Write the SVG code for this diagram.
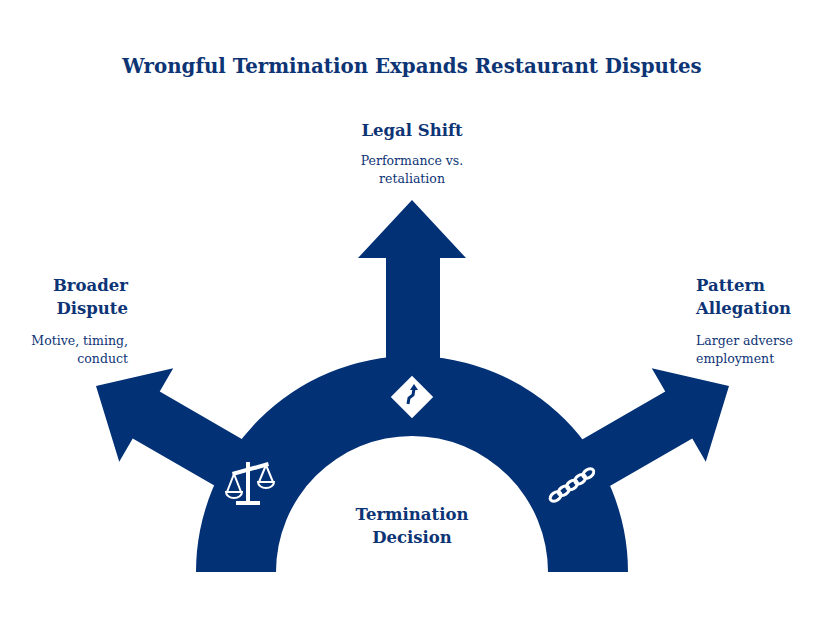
<svg xmlns="http://www.w3.org/2000/svg" width="825" height="620" viewBox="0 0 825 620">
<style>
.t{font-family:"DejaVu Serif","Liberation Serif",serif;fill:#0d3475}
.h{font-weight:bold;font-size:16.5px}
.d{font-size:12.5px}
.s{fill:#033176}
.w{fill:#fff}
</style>
<rect width="825" height="620" fill="#fff"/>
<text class="t" x="412" y="73" text-anchor="middle" font-size="19.8" font-weight="bold">Wrongful Termination Expands Restaurant Disputes</text>
<g id="connectors">
<polygon class="s" points="0,0 58,-54 58,-27 220,-27 220,27 58,27 58,54" transform="translate(96,386) rotate(30)"/>
<polygon class="s" points="0,0 58,-54 58,-27 220,-27 220,27 58,27 58,54" transform="translate(729,386) scale(-1,1) rotate(30)"/>
<polygon class="s" points="412,200 466,258 440,258 440,400 386,400 386,258 358,258"/>
</g>
<g id="arch">
<path class="s" d="M196,572 A216,216 0 0 1 628,572 L548,572 A136,136 0 0 0 276,572 Z"/>
</g>
<g id="icon-scale" class="w">
<rect x="246" y="462" width="4" height="42"/>
<rect x="236" y="501" width="24" height="4"/>
<polygon points="232,472 268,462 269,466 233,476"/>
<path d="M234,474 L227,492 L241,492 Z M226,492 a8,6 0 0 0 16,0 Z" fill="none" stroke="#fff" stroke-width="2"/>
<path d="M266,465 L259,482 L273,482 Z M258,482 a8,6 0 0 0 16,0 Z" fill="none" stroke="#fff" stroke-width="2"/>
</g>
<g id="icon-road">
<rect class="w" x="397" y="382" width="30" height="30" transform="rotate(45 412 397)"/>
<path d="M408,404 L409,398 L413,395 L414,389" fill="none" stroke="#033176" stroke-width="3"/>
<polygon class="s" points="410,390 414,384 418,390"/>
</g>
<g id="icon-chain" fill="none" stroke="#fff" stroke-width="3">
<g transform="rotate(-35 572 485)">
<ellipse cx="552" cy="485" rx="6" ry="4"/>
<ellipse cx="562" cy="485" rx="6" ry="4"/>
<ellipse cx="572" cy="485" rx="6" ry="4"/>
<ellipse cx="582" cy="485" rx="6" ry="4"/>
<ellipse cx="592" cy="485" rx="6" ry="4"/>
</g>
</g>
<g id="node-center">
<text class="t h" x="412" y="520" text-anchor="middle">Termination</text>
<text class="t h" x="412" y="543" text-anchor="middle">Decision</text>
</g>
<g id="node-legal">
<text class="t h" x="412" y="136" text-anchor="middle">Legal Shift</text>
<text class="t d" x="412" y="165" text-anchor="middle">Performance vs.</text>
<text class="t d" x="412" y="183" text-anchor="middle">retaliation</text>
</g>
<g id="node-broader">
<text class="t h" x="128" y="291" text-anchor="end">Broader</text>
<text class="t h" x="128" y="314" text-anchor="end">Dispute</text>
<text class="t d" x="128" y="345" text-anchor="end">Motive, timing,</text>
<text class="t d" x="128" y="363" text-anchor="end">conduct</text>
</g>
<g id="node-pattern">
<text class="t h" x="696" y="291">Pattern</text>
<text class="t h" x="696" y="314">Allegation</text>
<text class="t d" x="696" y="345">Larger adverse</text>
<text class="t d" x="696" y="363">employment</text>
</g>
</svg>
